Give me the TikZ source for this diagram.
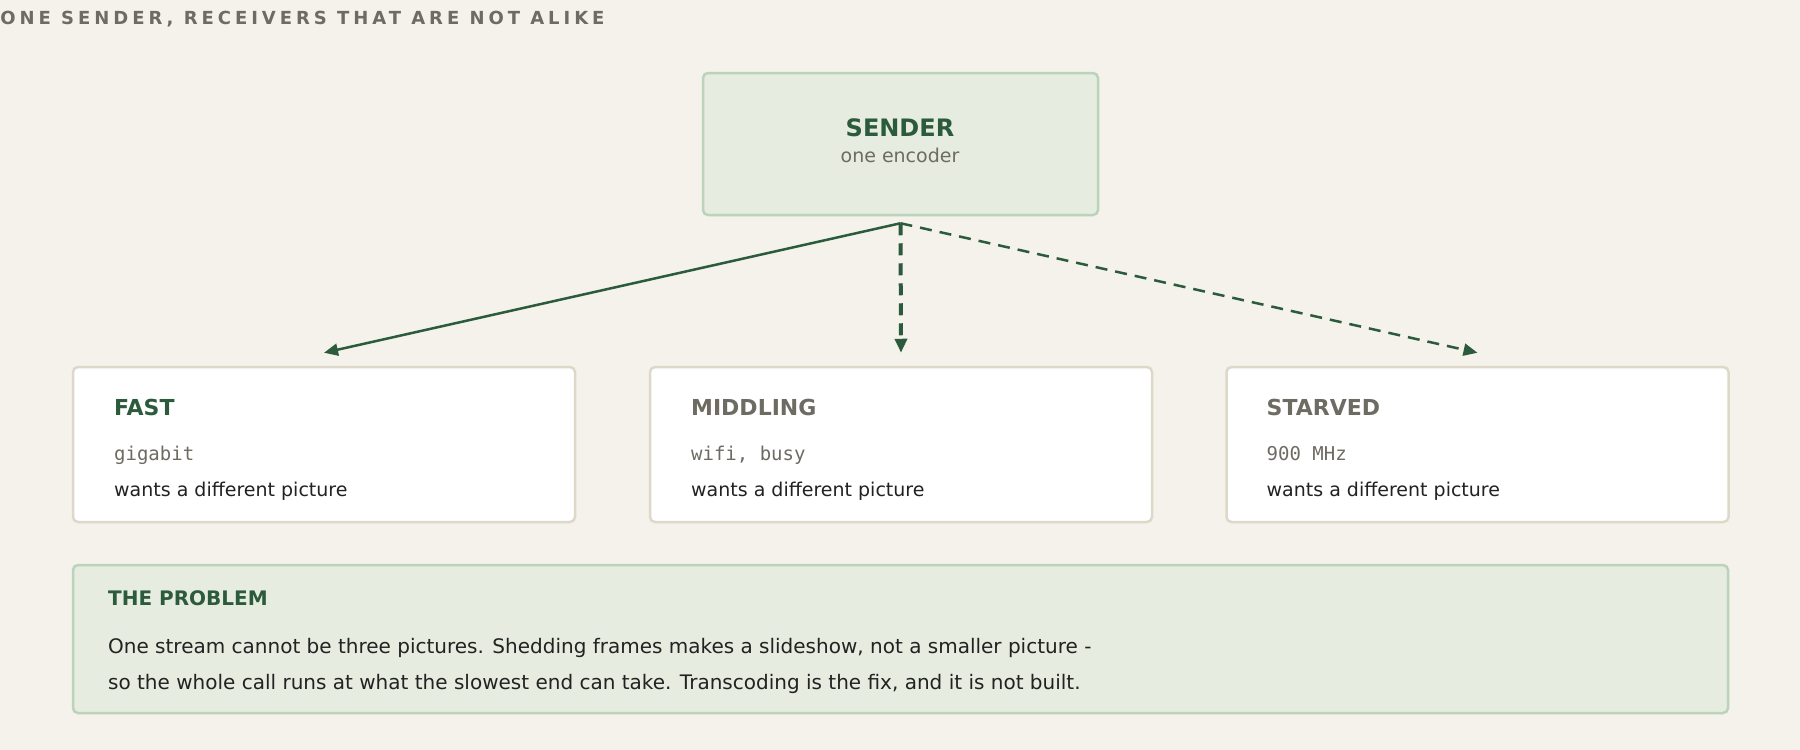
\documentclass[tikz,border=0pt]{standalone}
\usepackage{fontspec}
\setmainfont{DejaVu Sans}
\setmonofont{DejaVu Sans Mono}
\newfontfamily\spacedfont[LetterSpace=22]{DejaVu Sans}
\usetikzlibrary{arrows.meta}
\usetikzlibrary{positioning}
\definecolor{pagebg}{HTML}{F4F2EA}
\definecolor{pine}{HTML}{2B5B3C}
\definecolor{leaf}{HTML}{E6ECDF}
\definecolor{leafline}{HTML}{BBD2BB}
\definecolor{sandline}{HTML}{DDD8C9}
\definecolor{stone}{HTML}{6E6B62}
\definecolor{ink}{HTML}{222222}
\tikzset{
	box/.style = {
		rectangle,
		rounded corners=2.5pt,
		line width=1.25pt,
		inner sep=0pt
	},
	box_sender/.style = {
		box,
		draw=leafline,
		fill=leaf,
		minimum width=197.5pt,
		minimum height=71pt
	},
	box_recv/.style = {
		box,
		draw=sandline,
		fill=white,
		minimum width=251pt,
		minimum height=77.5pt
	},
	box_note/.style = {
		box,
		draw=leafline,
		fill=leaf,
		minimum width=827.5pt,
		minimum height=74pt
	},
	txt/.style = {
		inner sep=0pt,
		anchor=base west,
		text=ink,
		font=\fontsize{9.5pt}{11pt}\selectfont
	},
	txt_mono/.style = {
		txt,
		text=stone,
		font=\ttfamily\fontsize{9.5pt}{11pt}\selectfont
	},
	txt_head/.style = {
		txt,
		font=\bfseries\fontsize{11pt}{13pt}\selectfont
	},
	txt_note/.style = {
		txt,
		font=\fontsize{10pt}{12pt}\selectfont
	},
	txt_title/.style = {
		txt,
		text=stone,
		font=\spacedfont\bfseries\fontsize{9pt}{11pt}\selectfont
	},
	link/.style = {
		->,
		draw=pine,
		line width=1.25pt
	},
	link_busy/.style = {
		link,
		line width=2pt,
		dash pattern=on 6pt off 4pt
	},
	link_thin/.style = {
		link,
		dash pattern=on 6pt off 4pt
	},
}

\begin{document}
\begin{tikzpicture}[x=0.5pt, y=-0.5pt, >={Triangle[length=7pt,width=6pt]}]
\fill[pagebg] (0,0) rectangle (1800,750);
\useasboundingbox (0,0) rectangle (1800,750);

\node[txt_title] (title) at (0,24) {ONE SENDER, RECEIVERS THAT ARE NOT ALIKE};

% sender
\node[box_sender] (sender) at (900.5,144) {};
\node[txt_head, anchor=base, text=pine, font=\bfseries\fontsize{12pt}{14pt}\selectfont] (sender_head) at (900,136) {SENDER};
\node[txt, anchor=base, text=stone] (sender_sub) at (900,162) {one encoder};

% receivers
\node[box_recv] (fast) at (324,444.5) {};
\node[box_recv] (mid) at (901,444.5) {};
\node[box_recv] (starved) at (1477.5,444.5) {};

\node[txt_head, text=pine] (fast_head) at ([xshift=21pt,yshift=-25pt]fast.north west) {FAST};
\node[txt_mono] (fast_link) at ([xshift=21pt,yshift=-47.5pt]fast.north west) {gigabit};
\node[txt] (fast_want) at ([xshift=21pt,yshift=-65.5pt]fast.north west) {wants a different picture};

\node[txt_head, text=stone] (mid_head) at ([xshift=21pt,yshift=-25pt]mid.north west) {MIDDLING};
\node[txt_mono] (mid_link) at ([xshift=21pt,yshift=-47.5pt]mid.north west) {wifi, busy};
\node[txt] (mid_want) at ([xshift=21pt,yshift=-65.5pt]mid.north west) {wants a different picture};

\node[txt_head, text=stone] (starved_head) at ([xshift=20.5pt,yshift=-25pt]starved.north west) {STARVED};
\node[txt_mono] (starved_link) at ([xshift=20.5pt,yshift=-47.5pt]starved.north west) {900 MHz};
\node[txt] (starved_want) at ([xshift=20.5pt,yshift=-65.5pt]starved.north west) {wants a different picture};

% fan out
\coordinate (fan) at ([yshift=-3.5pt]sender.south);
\coordinate (fast_in) at ([yshift=6.5pt]fast.north);
\coordinate (mid_in) at ([yshift=6.5pt]mid.north);
\coordinate (starved_in) at ([yshift=6.5pt]starved.north);
\draw[link] (fan) -- (fast_in);
\draw[link_busy] (fan) -- (mid_in);
\draw[link_thin] (fan) -- (starved_in);

% the problem
\node[box_note] (note) at (900.5,639) {};
\node[txt, text=pine, font=\bfseries\fontsize{10pt}{12pt}\selectfont] (note_head) at ([xshift=18pt,yshift=-21pt]note.north west) {THE PROBLEM};
\node[txt_note] (note_l1) at ([xshift=18pt,yshift=-45pt]note.north west) {One stream cannot be three pictures. Shedding frames makes a slideshow, not a smaller picture -};
\node[txt_note] (note_l2) at ([xshift=18pt,yshift=-63pt]note.north west) {so the whole call runs at what the slowest end can take. Transcoding is the fix, and it is not built.};
\end{tikzpicture}
\end{document}
